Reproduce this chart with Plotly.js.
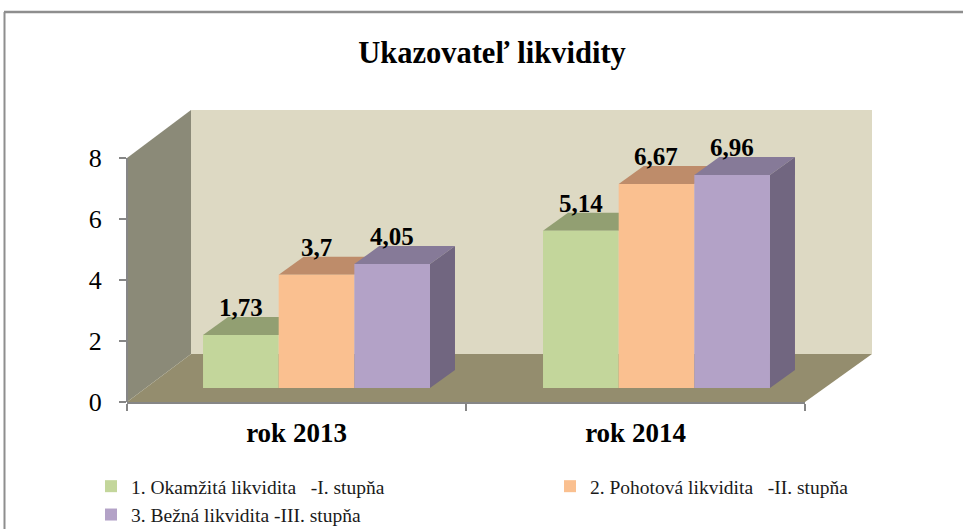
<!DOCTYPE html>
<html><head><meta charset="utf-8">
<script src="https://cdn.plot.ly/plotly-3.0.1.min.js"></script>
<style>html,body{margin:0;padding:0;background:#fff}#chart{width:963px;height:529px}</style>
</head><body><div id="chart"></div>
<script>
// ---- data ----
const categories = ['rok 2013', 'rok 2014'];
const seriesNames = [
  '1. Okamžitá likvidita \u00a0 -I. stupňa',
  '2. Pohotová likvidita \u00a0 -II. stupňa',
  '3. Bežná likvidita -III. stupňa'
];
const okamzita = [1.73, 5.14];
const pohotova = [3.7, 6.67];
const bezna = [4.05, 6.96];
const yTicks = [0, 2, 4, 6, 8];

// ---- styles ----
const frontColors = ['#C3D69B', '#FAC090', '#B3A2C7'];
const topColors = ['#929F72', '#BE8C6A', '#867A98'];
const sideColor = '#716680';
const serif = 'Liberation Serif, Times New Roman, serif';

const W = 963, H = 529;
const px = x => x / W;
const py = y => 1 - y / H;

const series = [okamzita, pohotova, bezna];
const bargap = 0.3324;
const w = (1 - bargap) / series.length;
const dx = 25 / 340;      // depth offset in category units
const dy = 18 / 30.6;     // depth offset in value units

const fmt = v => String(v).replace('.', ',');

const traces = series.map((vals, k) => ({
  type: 'bar',
  name: seriesNames[k],
  x: categories,
  y: vals,
  xaxis: 'x2', yaxis: 'y2',
  marker: {color: frontColors[k], line: {width: 0}},
  cliponaxis: false,
  hoverinfo: 'skip'
}));
// invisible helper so the front-plane (labelled) axes are drawn
traces.unshift({type: 'scatter', mode: 'none', x: categories.map((c, i) => i), y: categories.map(() => 0),
  xaxis: 'x', yaxis: 'y', showlegend: false, hoverinfo: 'skip'});

const shapes = [];
// chart border
shapes.push({type: 'line', xref: 'paper', yref: 'paper', x0: px(4), x1: px(963), y0: py(12), y1: py(12), line: {color: '#8E8E8E', width: 2.5}, layer: 'below'});
shapes.push({type: 'line', xref: 'paper', yref: 'paper', x0: px(4.5), x1: px(4.5), y0: py(12), y1: py(529), line: {color: '#8E8E8E', width: 2}, layer: 'below'});
// walls
shapes.push({type: 'rect', xref: 'paper', yref: 'paper', x0: px(191), x1: px(872), y0: py(354), y1: py(110), fillcolor: '#DDD9C3', line: {width: 0}, layer: 'below'});
shapes.push({type: 'path', xref: 'paper', yref: 'paper',
  path: `M ${px(127)},${py(402)} L ${px(127)},${py(158)} L ${px(191)},${py(110)} L ${px(191)},${py(354)} Z`,
  fillcolor: '#8B8A78', line: {width: 0}, layer: 'below'});
shapes.push({type: 'path', xref: 'paper', yref: 'paper',
  path: `M ${px(127)},${py(402)} L ${px(805)},${py(402)} L ${px(872)},${py(354)} L ${px(191)},${py(354)} Z`,
  fillcolor: '#948D6E', line: {width: 0}, layer: 'below'});
// y axis line
shapes.push({type: 'line', xref: 'paper', yref: 'paper', x0: px(127), x1: px(127), y0: py(158), y1: py(402), line: {color: '#868686', width: 2}, layer: 'below'});

// 3D faces of the bars, derived from the data
series.forEach((vals, k) => {
  vals.forEach((v, i) => {
    const left = i + (k - (series.length - 1) / 2) * w - w / 2;
    const right = left + w;
    shapes.push({type: 'path', xref: 'x2', yref: 'y2', layer: 'below',
      path: `M ${left},${v} L ${right},${v} L ${right + dx},${v + dy} L ${left + dx},${v + dy} Z`,
      fillcolor: topColors[k], line: {width: 0}});
    if (k === series.length - 1) {
      shapes.push({type: 'path', xref: 'x2', yref: 'y2', layer: 'below',
        path: `M ${right},0 L ${right + dx},${dy} L ${right + dx},${v + dy} L ${right},${v} Z`,
        fillcolor: sideColor, line: {width: 0}});
    }
  });
});

const annotations = [];
series.forEach((vals, k) => {
  vals.forEach((v, i) => {
    annotations.push({
      xref: 'x2', yref: 'y2',
      x: i + (k - (series.length - 1) / 2) * w,
      y: v, yanchor: 'bottom', xanchor: 'center', yshift: 12,
      text: fmt(v), showarrow: false,
      font: {family: serif, size: 25, color: '#000', weight: 700}
    });
  });
});

const layout = {
  width: W, height: H,
  margin: {l: 0, r: 0, t: 0, b: 0, autoexpand: false},
  paper_bgcolor: '#fff',
  plot_bgcolor: 'rgba(0,0,0,0)',
  title: {text: 'Ukazovateľ likvidity', x: px(492), xref: 'container', xanchor: 'center',
    y: py(52), yref: 'container', yanchor: 'middle',
    font: {family: serif, size: 30.5, color: '#000', weight: 700}},
  barmode: 'group', bargap: bargap, bargroupgap: 0,
  showlegend: true,
  legend: {orientation: 'h', x: px(91), y: py(467), xanchor: 'left', yanchor: 'top',
    entrywidth: 414, font: {family: serif, size: 19.5, color: '#1a1a1a'}, bgcolor: 'rgba(0,0,0,0)'},
  xaxis: {type: 'linear', domain: [px(127), px(805)], range: [-0.5, 1.5], anchor: 'y',
    tickvals: categories.map((c, i) => i), ticktext: categories, ticks: '',
    minor: {tickvals: categories.map((c, i) => i - 0.5).concat([categories.length - 0.5]), ticks: 'outside', ticklen: 7, tickcolor: '#868686', tickwidth: 1.5, showgrid: false},
    showline: true, linecolor: '#868686', linewidth: 2, showgrid: false, zeroline: false,
    ticklabelstandoff: 6,
    tickfont: {family: serif, size: 27, color: '#000', weight: 700}, fixedrange: true},
  yaxis: {type: 'linear', domain: [py(402), py(110)], range: [0, 9.574], anchor: 'x',
    tickvals: yTicks, ticks: 'outside', ticklen: 7, tickcolor: '#868686', tickwidth: 1.5,
    showline: false, showgrid: false, zeroline: false, ticklabelstandoff: 12,
    tickfont: {family: serif, size: 26, color: '#000'}, fixedrange: true},
  xaxis2: {type: 'category', overlaying: 'x', anchor: 'y2', domain: [px(127), px(805)],
    range: [-0.5574, 1.4368], visible: false, fixedrange: true},
  yaxis2: {overlaying: 'y', anchor: 'x2', domain: [py(402), py(110)],
    range: [-0.4575, 9.085], visible: false, fixedrange: true},
  shapes: shapes,
  annotations: annotations
};

Plotly.newPlot('chart', traces, layout, {displayModeBar: false, staticPlot: true});
</script>
</body></html>
